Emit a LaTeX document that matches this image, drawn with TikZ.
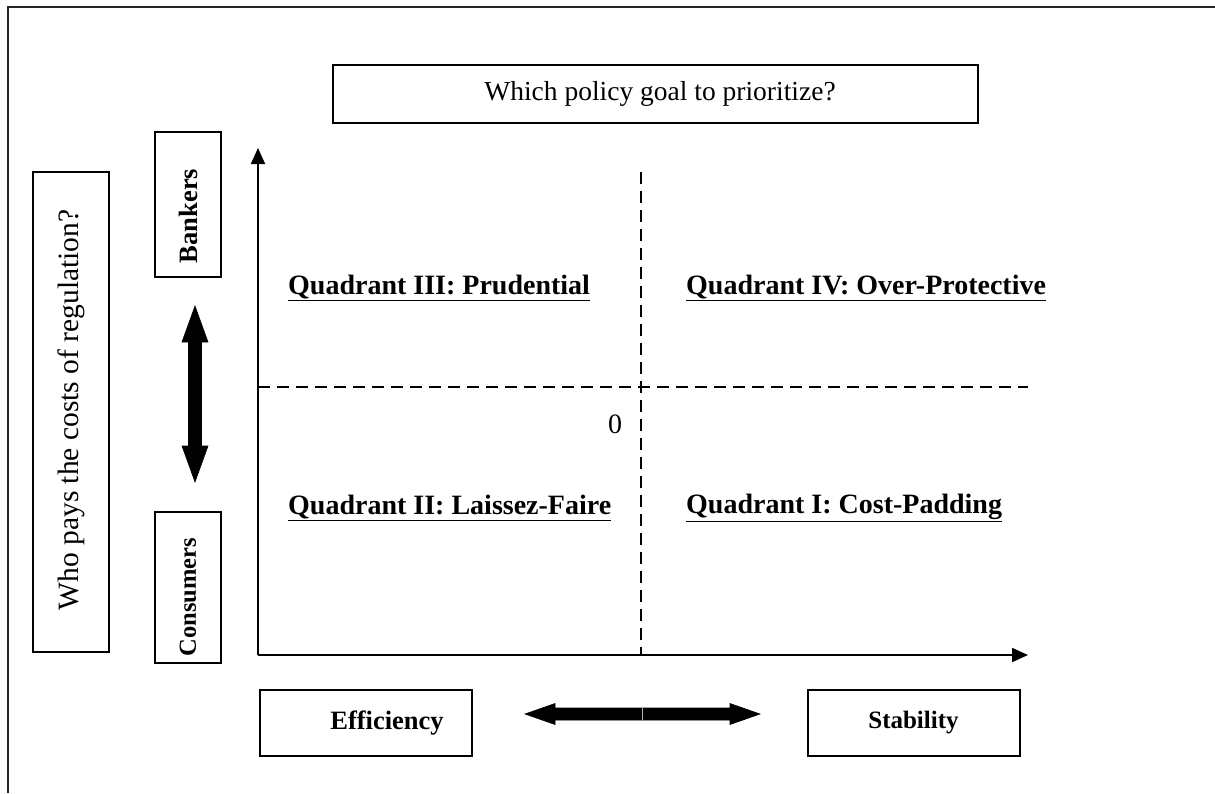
\documentclass[tikz,border=0pt]{standalone}
\usepackage{fontspec}
\setmainfont{Liberation Serif}
\usetikzlibrary{arrows.meta}
\newcommand{\fsz}[1]{\fontsize{#1}{#1}\selectfont}
\begin{document}
\begin{tikzpicture}[x=1pt,y=-1pt,
  box/.style={draw, line width=1.6pt, inner sep=0pt, align=center},
  txt/.style={inner sep=0pt},
  quad/.style={anchor=west, inner sep=0pt, font=\fsz{28}\bfseries},
  axis/.style={line width=1.8pt, -{Triangle[length=16pt,width=14pt]}},
  dsh/.style={line width=1.8pt, dash pattern=on 12pt off 7pt},
  blockarrow/.style={fill=black, draw=black, line width=0.6pt}]
\useasboundingbox (0,0) rectangle (1215,793);
% outer frame
\coordinate (fbl) at (8,793);
\coordinate (ftl) at (8,7);
\coordinate (ftr) at (1215,7);
\draw[line width=2pt, draw=black!85] (fbl) -- (ftl) -- (ftr);
% boxes
\node[box, minimum width=645pt, minimum height=58pt] (goal) at (655.5,94) {};
\node[txt, font=\fsz{27.5}] (goalt) at (660,94) {Which policy goal to prioritize?};
\node[box, rotate=90, minimum width=480pt, minimum height=76pt] (who) at (71,412) {};
\node[txt, rotate=90, font=\fsz{29.5}] (whot) at (71,410) {Who pays the costs of regulation?};
\node[box, rotate=90, minimum width=145pt, minimum height=66pt] (bank) at (188,204.5) {};
\node[txt, rotate=90, font=\fsz{26.5}\bfseries] (bankt) at (188,216) {Bankers};
\node[box, rotate=90, minimum width=151pt, minimum height=66pt] (cons) at (188,587.5) {};
\node[txt, rotate=90, font=\fsz{24.5}\bfseries] (const) at (188,597) {Consumers};
\node[box, minimum width=212pt, minimum height=66pt] (eff) at (366,723) {};
\node[txt, font=\fsz{26.5}\bfseries] (efft) at (387,723) {Efficiency};
\node[box, minimum width=212pt, minimum height=66pt] (stab) at (914,723) {};
\node[txt, font=\fsz{25}\bfseries] (stabt) at (913.5,723) {Stability};
% axes
\coordinate (O) at (258,655);
\coordinate (ytop) at (258,148);
\coordinate (xend) at (1028,655);
\draw[axis] (O) -- (ytop);
\draw[axis] (O) -- (xend);
% dashed lines
\coordinate (vtop) at (641,172);
\coordinate (vbot) at (641,655);
\coordinate (hl) at (258,387);
\coordinate (hr) at (1028,387);
\draw[dsh] (vtop) -- (vbot);
\draw[dsh] (hl) -- (hr);
\node[txt, font=\fsz{28}] (zero) at (615,424) {0};
% quadrant labels
\node[quad] (q3) at (288,288) {\underline{Quadrant III: Prudential}};
\node[quad] (q4) at (686,288) {\underline{Quadrant IV: Over-Protective}};
\node[quad] (q2) at (288,508) {\underline{Quadrant II: Laissez-Faire}};
\node[quad] (q1) at (686,508) {\underline{Quadrant I: Cost-Padding}};
% vertical block arrow
\fill[blockarrow] (195,306) -- (208,342) -- (201.5,342) -- (201.5,446) -- (208,446)
  -- (195,482) -- (182,446) -- (188.5,446) -- (188.5,342) -- (182,342) -- cycle;
% horizontal block arrow
\fill[blockarrow] (525,714) -- (555,703.5) -- (555,708) -- (730,708) -- (730,703.5)
  -- (760,714) -- (730,724.5) -- (730,720) -- (555,720) -- (555,724.5) -- cycle;
\draw[white!70!black, line width=0.5pt] (642,708) -- (642,720);
\end{tikzpicture}
\end{document}
